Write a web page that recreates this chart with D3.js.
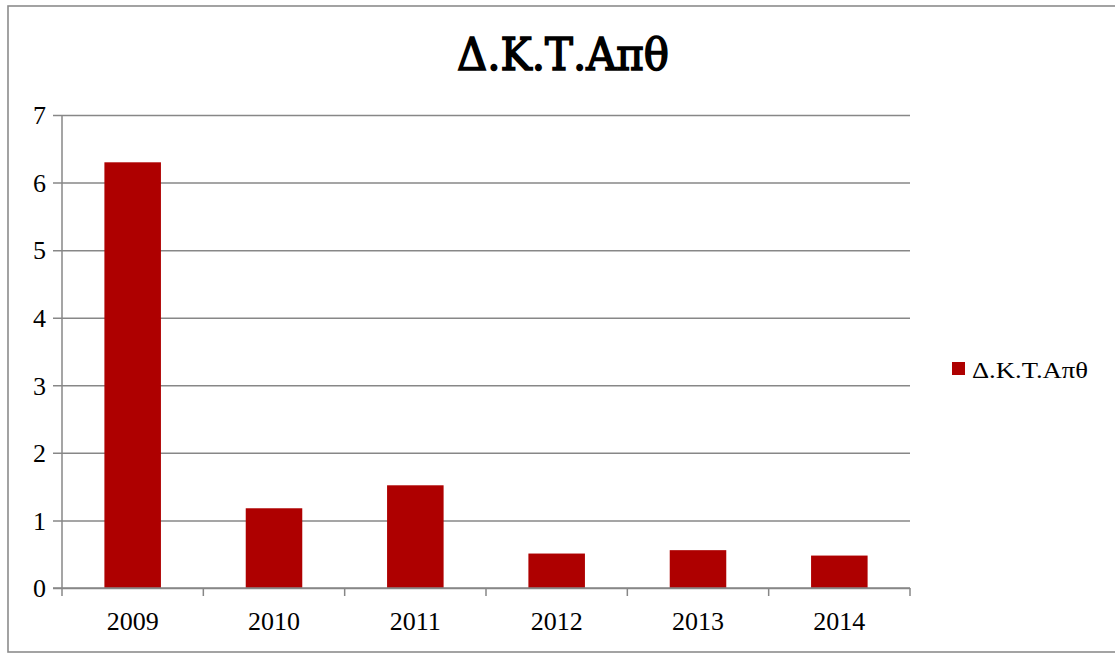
<!DOCTYPE html>
<html>
<head>
<meta charset="utf-8">
<script src="https://cdn.jsdelivr.net/npm/d3@7"></script>
<style>
  html, body { margin: 0; padding: 0; background: #fff; }
  svg { display: block; }
</style>
</head>
<body>
<svg id="chart" width="1115" height="654"></svg>
<script>
// Chart data
const title = "Δ.Κ.Τ.Απθ";
const seriesName = "Δ.Κ.Τ.Απθ";
const years = ["2009", "2010", "2011", "2012", "2013", "2014"];
const values = [6.3, 1.18, 1.52, 0.51, 0.56, 0.48];
const yTicks = [0, 1, 2, 3, 4, 5, 6, 7];

const FONT = "'Liberation Serif', 'DejaVu Serif', serif";
const svg = d3.select("#chart").attr("font-family", FONT);
const plot = { left: 62, right: 910, top: 115, bottom: 588 };
const gridColor = "#878787";
const barColor = "#ae0000";

// Outer chart frame
svg.append("rect")
  .attr("x", 8).attr("y", 6)
  .attr("width", 1120).attr("height", 646)
  .attr("fill", "#fff")
  .attr("stroke", "#8c8c8c")
  .attr("stroke-width", 1.6);

const x = d3.scaleBand()
  .domain(years)
  .range([plot.left, plot.right])
  .paddingInner(0.6)
  .paddingOuter(0.3);

const y = d3.scaleLinear()
  .domain([0, 7])
  .range([plot.bottom, plot.top]);

// Horizontal gridlines with left tick marks and labels
const yAxis = d3.axisLeft(y)
  .tickValues(yTicks)
  .tickSize(-(plot.right - plot.left))
  .tickPadding(16)
  .tickFormat(d3.format("d"));

const gy = svg.append("g")
  .attr("transform", `translate(${plot.left},0)`)
  .call(yAxis)
  .attr("font-family", FONT);
gy.select(".domain").remove();
gy.selectAll(".tick line")
  .attr("x1", -9)
  .attr("stroke", gridColor)
  .attr("stroke-width", 1.5);
gy.selectAll(".tick text")
  .attr("font-family", FONT)
  .attr("font-size", 26)
  .attr("fill", "#000")
  .attr("dy", "0.34em");

// Vertical value axis line
svg.append("line")
  .attr("x1", plot.left).attr("x2", plot.left)
  .attr("y1", plot.top).attr("y2", plot.bottom)
  .attr("stroke", gridColor)
  .attr("stroke-width", 1.5);

// Bars
svg.append("g")
  .selectAll("rect")
  .data(values)
  .join("rect")
  .attr("x", (d, i) => x(years[i]))
  .attr("y", d => y(d))
  .attr("width", x.bandwidth())
  .attr("height", d => y(0) - y(d))
  .attr("fill", barColor);

// Category axis with ticks at band boundaries
const gx = svg.append("g")
  .attr("transform", `translate(0,${plot.bottom})`);
gx.append("line")
  .attr("x1", plot.left - 9).attr("x2", plot.right)
  .attr("stroke", gridColor)
  .attr("stroke-width", 1.5);
const edges = d3.range(years.length + 1).map(i => plot.left + i * x.step());
gx.selectAll(".edge")
  .data(edges)
  .join("line")
  .attr("class", "edge")
  .attr("x1", d => d).attr("x2", d => d)
  .attr("y1", 0).attr("y2", 8)
  .attr("stroke", gridColor)
  .attr("stroke-width", 1.5);
gx.selectAll(".lbl")
  .data(years)
  .join("text")
  .attr("class", "lbl")
  .attr("x", d => x(d) + x.bandwidth() / 2)
  .attr("y", 42)
  .attr("text-anchor", "middle")
  .attr("font-size", 26)
  .text(d => d);

// Title: serif face thickened with a matching stroke
svg.append("text")
  .attr("x", 457)
  .attr("y", 70)
  .attr("font-family", "'DejaVu Serif', serif")
  .attr("font-size", 44)
  .attr("fill", "#000")
  .attr("stroke", "#000")
  .attr("stroke-width", 1.6)
  .attr("textLength", 212)
  .attr("lengthAdjust", "spacingAndGlyphs")
  .text(title);

// Legend
const lg = svg.append("g").attr("transform", "translate(952,362)");
lg.append("rect")
  .attr("width", 13).attr("height", 13)
  .attr("fill", barColor);
lg.append("text")
  .attr("x", 20).attr("y", 16)
  .attr("font-size", 23)
  .attr("textLength", 116)
  .attr("lengthAdjust", "spacingAndGlyphs")
  .text(seriesName);
</script>
</body>
</html>
